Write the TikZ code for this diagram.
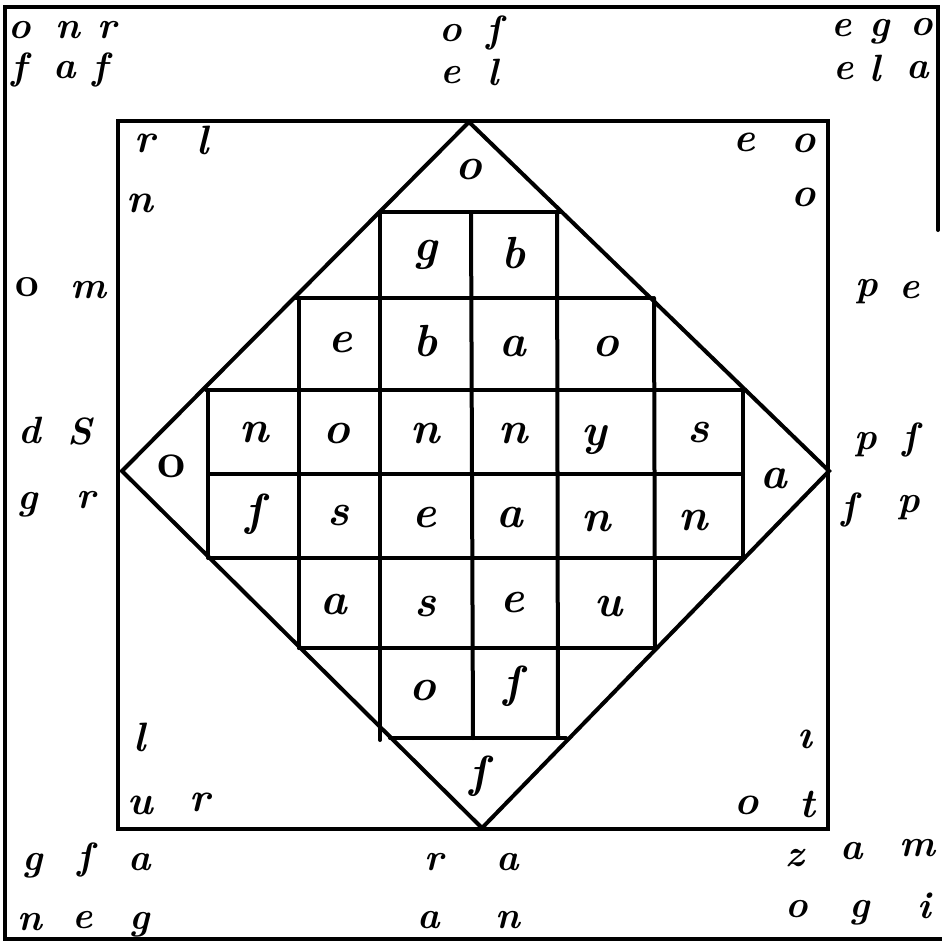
\documentclass[tikz,border=0pt]{standalone}
\usepackage{fontspec}
\begin{document}
\begin{tikzpicture}[x=1pt,y=-1pt,
  ln/.style={line width=4pt, line cap=round, line join=miter},
  og/.style={inner sep=0pt, font=\fontsize{38}{38}\selectfont\bfseries\itshape},
  ic/.style={inner sep=0pt, font=\fontsize{41}{41}\selectfont\bfseries\itshape},
  gl/.style={inner sep=0pt, font=\fontsize{45}{45}\selectfont\bfseries\itshape}]
\useasboundingbox (0,0) rectangle (942,942);
% frames
\draw[ln] (938,230) -- (938,7) -- (5,7) -- (5,939) -- (942,939);
\draw[ln] (118,121) rectangle (828,829);
\draw[ln] (469,122) -- (829,471) -- (482,828) -- (122,471) -- cycle;
% grid horizontals
\draw[ln] (380,212) -- (561,212);
\draw[ln] (296,298) -- (652,298);
\draw[ln] (206,390) -- (745,390);
\draw[ln] (208,474) -- (743,474);
\draw[ln] (209,558) -- (744,558);
\draw[ln] (299,648) -- (656,648);
\draw[ln] (390,738) -- (566,738);
% grid verticals
\draw[ln] (208,390) -- (208,558);
\draw[ln] (299,298) -- (299,648);
\draw[ln] (380,212) -- (380,740);
\draw[ln] (471,212) -- (473,738);
\draw[ln] (557,212) -- (558,738);
\draw[ln] (654,298) -- (655,648);
\draw[ln] (743,390) -- (743,558);
% grid letters
\node[gl] (g11) at (425,255) {g};
\node[gl] (g12) at (513,253) {b};
\node[gl] (g21) at (340,343) {e};
\node[gl] (g22) at (425,341) {b};
\node[gl] (g23) at (513,347) {a};
\node[gl] (g24) at (606,347) {o};
\node[gl] (g31) at (254,433) {n};
\node[gl] (g32) at (337,434) {o};
\node[gl] (g33) at (425,434) {n};
\node[gl] (g34) at (513,434) {n};
\node[gl] (g35) at (594,440) {y};
\node[gl] (g36) at (698,433) {s};
\node[gl] (g41) at (254,514) {ſ};
\node[gl] (g42) at (338,516) {s};
\node[gl] (g43) at (424,518) {e};
\node[gl] (g44) at (510,518) {a};
\node[gl] (g45) at (596,522) {n};
\node[gl] (g46) at (693,521) {n};
\node[gl] (g51) at (334,605) {a};
\node[gl] (g52) at (425,607) {s};
\node[gl] (g53) at (512,603) {e};
\node[gl] (g54) at (608,607) {u};
\node[gl] (g61) at (423,691) {o};
\node[gl] (g62) at (512,686) {ſ};
% diamond corners
\node[gl] (dT) at (469,170) {o};
\node[gl,font=\fontsize{50}{50}\selectfont\bfseries] (dL) at (172,466) {o};
\node[gl] (dR) at (774,479) {a};
\node[gl] (dB) at (478,776) {ſ};
% inner square corners
\node[ic] (i1) at (145,143) {r};
\node[ic] (i2) at (203,140) {l};
\node[ic] (i3) at (140,203) {n};
\node[ic] (i4) at (744,142) {e};
\node[ic] (i5) at (804,143) {o};
\node[ic] (i6) at (804,197) {o};
\node[ic] (i7) at (140,737) {l};
\node[ic] (i8) at (140,805) {u};
\node[ic] (i9) at (200,802) {r};
\node[ic] (i10) at (805,739) {ı};
\node[ic] (i11) at (747,805) {o};
\node[ic] (i12) at (807,804) {t};
% outer: top-left
\node[og] (a1) at (20,30) {o};
\node[og] (a2) at (68,30) {n};
\node[og] (a3) at (107,30) {r};
\node[og] (a4) at (19,70) {f};
\node[og] (a5) at (65,70) {a};
\node[og] (a6) at (100,70) {f};
% top-centre
\node[og] (b1) at (451,33) {o};
\node[og] (b2) at (494,33) {ſ};
\node[og] (b3) at (451,75) {e};
\node[og] (b4) at (493,72) {l};
% top-right
\node[og] (c1) at (842,28) {e};
\node[og] (c2) at (880,32) {g};
\node[og] (c3) at (922,27) {o};
\node[og] (c4) at (844,71) {e};
\node[og] (c5) at (875,68) {l};
\node[og] (c6) at (918,70) {a};
% sides
\node[og,font=\fontsize{42}{42}\selectfont\bfseries] (s1) at (27,287) {o};
\node[og] (s2) at (88,290) {m};
\node[og] (s3) at (867,292) {p};
\node[og] (s4) at (910,290) {e};
\node[og] (s5) at (30,430) {d};
\node[og] (s6) at (80,431) {S};
\node[og] (s7) at (28,505) {g};
\node[og] (s8) at (86,500) {r};
\node[og] (s9) at (866,445) {p};
\node[og] (s10) at (910,440) {ſ};
\node[og] (s11) at (849,510) {ſ};
\node[og] (s12) at (909,508) {p};
% bottom-left
\node[og] (d1) at (33,866) {g};
\node[og] (d2) at (85,860) {ſ};
\node[og] (d3) at (140,862) {a};
\node[og] (d4) at (30,922) {n};
\node[og] (d5) at (83,920) {e};
\node[og] (d6) at (140,925) {g};
% bottom-centre
\node[og] (e1) at (434,862) {r};
\node[og] (e2) at (508,862) {a};
\node[og] (e3) at (429,920) {a};
\node[og] (e4) at (508,920) {n};
% bottom-right
\node[og] (f1) at (795,858) {z};
\node[og] (f2) at (852,851) {a};
\node[og] (f3) at (917,848) {m};
\node[og] (f4) at (797,909) {o};
\node[og] (f5) at (860,913) {g};
\node[og] (f6) at (924,906) {i};
\end{tikzpicture}
\end{document}
